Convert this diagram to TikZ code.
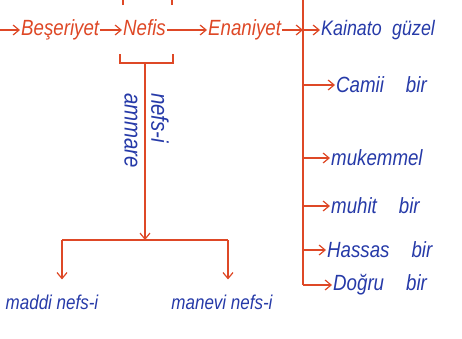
\documentclass[tikz,border=0pt]{standalone}
\usepackage{fontspec}
\setmainfont{Liberation Sans}
\newfontfamily\hand[FakeStretch=0.85]{Liberation Sans}
\usetikzlibrary{arrows.meta,positioning,calc}
\definecolor{ink}{RGB}{222,72,38}
\definecolor{pen}{RGB}{38,58,168}
\newcommand{\gap}{\hspace{1em}}

\begin{document}
\begin{tikzpicture}[x=1pt, y=-1pt,
  word/.style={font=\hand\fontsize{22}{24}\selectfont\itshape, text=ink, inner sep=1pt, anchor=west},
  note/.style={font=\hand\fontsize{#1}{24}\selectfont\itshape, text=pen, inner sep=1pt, anchor=west},
  note/.default=22,
  line/.style={draw=ink, line width=1.2pt},
  arr/.style={line, -{Straight Barb[length=6pt,width=10pt]}},
]
\useasboundingbox (0,0) rectangle (462,338);
\clip (0,0) rectangle (462,338);

% Top row
\coordinate (start) at (-2,30);
\node[word] (beser) at (20,30) {Beşeriyet};
\node[word, text depth=4pt] (nefis) at (122,30) {Nefis};
\node[word] (enan) at (207,30) {Enaniyet};
\draw[arr] (start) -- (beser.west);
\draw[arr] (beser.east) -- (nefis.west);
\draw[arr] (nefis.east) -- (enan.west);

% Spine
\coordinate (top) at (303,-5);
\foreach \y/\n in {30/1,85/2,158/3,206/4,250/5,285/6} {
  \coordinate (s\n) at (303,\y);
}
\draw[arr] (enan.east) -- (s1);
\draw[line] (top) -- (s6);

% Branches
\node[note=21] (b1) at (320,30) {Kainato\hspace{0.5em}güzel};
\node[note] (b2) at (335,85) {Camii\gap bir};
\node[note] (b3) at (330,158) {mukemmel};
\node[note] (b4) at (330,206) {muhit\gap bir};
\node[note] (b5) at (326,250) {Hassas\gap bir};
\node[note] (b6) at (332,285) {Doğru\gap bir};
\foreach \n in {1,...,6} {
  \draw[arr] (s\n) -- (b\n.west);
}

% Brackets on Nefis
\draw[line] (123,5) -- (123,-10);
\draw[line] (172,5) -- (172,-10);
\draw[line] (120,54) -- (120,63) -- (173,63) -- (173,54);
\coordinate (brace) at (145,63);

% Down branch
\coordinate (fork) at (145,240);
\coordinate (fl) at (62,240);
\coordinate (fr) at (228,240);
\draw[arr] (brace) -- (fork);
\draw[line] (fl) -- (fr);
\node[note=24, rotate=-90] (ammare) at (131,92) {ammare};
\node[note=24, rotate=-90] (nefsi) at (160,92) {nefs-i};

% Bottom
\node[note=20, anchor=center] (maddi) at (52,302) {maddi nefs-i};
\node[note=20, anchor=center] (manevi) at (222,302) {manevi nefs-i};
\draw[arr, shorten >=14pt] (fl) -- (fl |- maddi.north);
\draw[arr, shorten >=14pt] (fr) -- (fr |- manevi.north);
\end{tikzpicture}
\end{document}
